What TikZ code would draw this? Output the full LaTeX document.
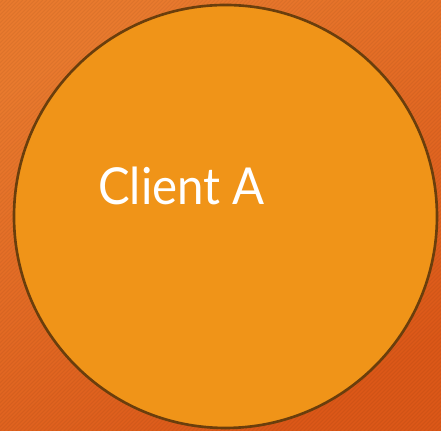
\documentclass[tikz,border=0pt]{standalone}
\usepackage{fontspec}
\setmainfont{Lato}
\begin{document}
\begin{tikzpicture}[x=0.02cm,y=-0.02cm]
\tikzset{client/.style = {shape=circle,draw=clientrim,fill=clientfill,line width=1.5pt,minimum size=423*0.02cm,inner sep=0pt}}
\tikzset{label/.style = {text=white,font=\fontsize{29}{34}\selectfont,inner sep=0pt,xscale=0.93,transform shape}}
\definecolor{bgtop}{HTML}{E97A2E}
\definecolor{bgbot}{HTML}{DC5818}
\definecolor{clientfill}{HTML}{F09418}
\definecolor{clientrim}{HTML}{6A3E0C}
% background with faint stripes
\useasboundingbox (0,0) rectangle (441,431);
\shade[top color=bgtop,bottom color=bgbot,shading angle=30] (0,0) rectangle (441,431);
\begin{scope}
\clip (0,0) rectangle (441,431);
\foreach \i in {-440,-436,...,440}
  \draw[black,opacity=0.05,line width=0.6pt] (\i,431) -- (\i+431,0);
\end{scope}
% the client
\node[client] (clienta) at (225.5,216.5) {};
\node[label,anchor=base west] (name) at (98,205) {Client A};
\end{tikzpicture}
\end{document}
